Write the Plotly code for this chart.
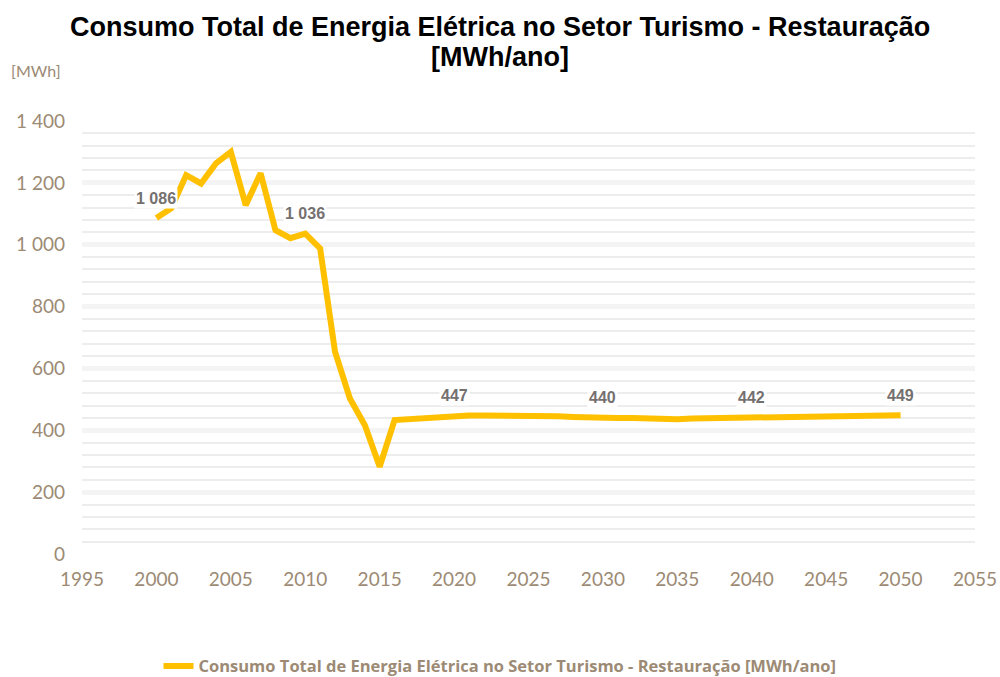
import plotly.graph_objects as go

# Annual electricity consumption, tourism sector - restaurants [MWh/year]
years = list(range(2000, 2051))
consumo = [
    1086, 1118, 1225, 1198, 1263, 1300, 1128, 1231, 1047, 1021,
    1036, 988, 654, 503, 417, 282, 433, 436, 440, 444,
    447, 448, 448, 448, 448, 448, 447, 445, 443, 441,
    440, 440, 440, 438, 436, 436, 438, 439, 440, 441,
    442, 443, 444, 445, 446, 446, 447, 447, 448, 448,
    449,
]
label_years = [2000, 2010, 2020, 2030, 2040, 2050]

series_name = "Consumo Total de Energia Elétrica no Setor Turismo - Restauração [MWh/ano]"
title_lines = ["Consumo Total de Energia Elétrica no Setor Turismo - Restauração", "[MWh/ano]"]

line_color = "#FFC000"
tan = "#9C8A74"
label_gray = "#757070"


def fmt(v):
    return f"{v:,}".replace(",", " ")


fig = go.Figure()
fig.add_trace(go.Scatter(
    x=years, y=consumo, mode="lines", name=series_name,
    line=dict(color=line_color, width=6),
))

for yr in label_years:
    v = consumo[years.index(yr)]
    fig.add_annotation(
        x=yr, y=v, text=fmt(v), showarrow=False, yshift=20,
        bgcolor="white",
        font=dict(family="Liberation Sans, Arial", size=16, color=label_gray, weight="bold"),
    )

# unit label above the value axis
fig.add_annotation(
    xref="paper", yref="paper", x=-0.082, y=1.117, xanchor="left", yanchor="middle",
    text="[MWh]", showarrow=False,
    font=dict(family="Lato", size=16, color=tan),
)

# chart title, one annotation per line
for i, line in enumerate(title_lines):
    fig.add_annotation(
        xref="paper", yref="paper", x=0.468, y=(554 - 27 - 30 * i) / 433,
        xanchor="center", yanchor="middle",
        text=line, showarrow=False,
        font=dict(family="Liberation Sans, Arial", size=27, color="black", weight="bold"),
    )

fig.update_layout(
    width=1000, height=677,
    margin=dict(l=82, r=25, t=121, b=123),
    paper_bgcolor="white", plot_bgcolor="white",
    separators=", ",
    showlegend=True,
    legend=dict(
        orientation="h", x=0.5, xref="container", xanchor="center",
        y=0.016, yref="container", yanchor="middle",
        font=dict(family="Open Sans", size=16.5, color=tan, weight="bold"),
        itemwidth=30,
    ),
    xaxis=dict(
        range=[1995, 2055], dtick=5, tick0=1995,
        showgrid=False, zeroline=False, showline=False,
        ticks="", ticklabelstandoff=12, automargin=False,
        tickfont=dict(family="Lato", size=19, color=tan),
    ),
    yaxis=dict(
        range=[0, 1400], dtick=200, tick0=0,
        separatethousands=True,
        showgrid=True, gridcolor="#F4F4F4", gridwidth=5,
        zeroline=False, showline=False,
        ticks="", ticklabelstandoff=16, automargin=False,
        tickfont=dict(family="Lato", size=19, color=tan),
        minor=dict(dtick=40, showgrid=True, gridcolor="#EDEDED", gridwidth=1.5),
    ),
)

fig.write_html("out.html")
